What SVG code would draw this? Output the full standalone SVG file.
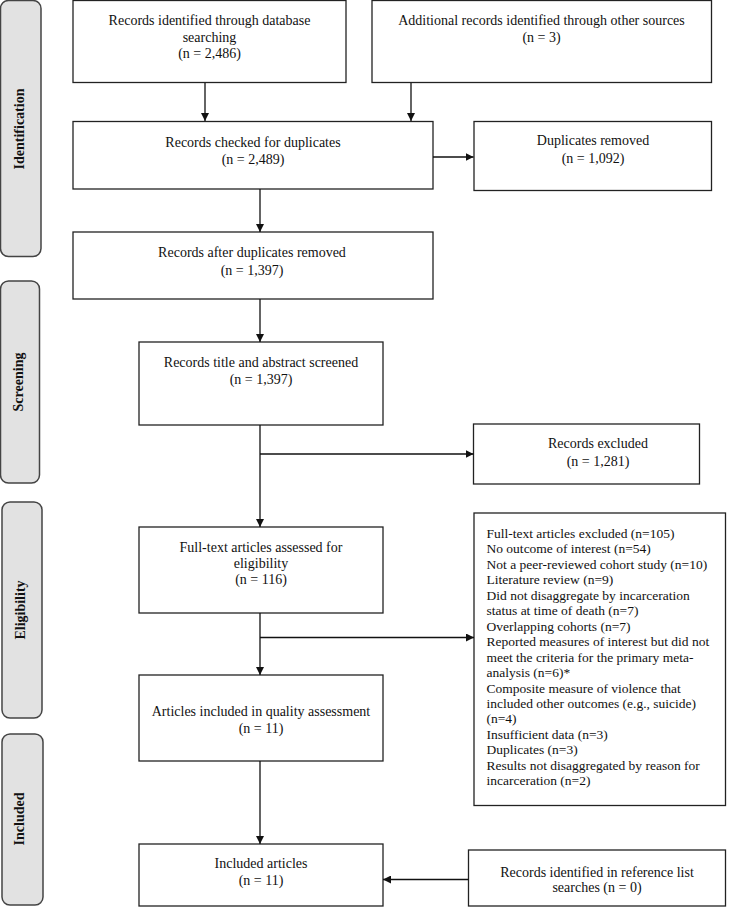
<svg xmlns="http://www.w3.org/2000/svg" width="729" height="907" viewBox="0 0 729 907">
<style>
.box{fill:#fff;stroke:#222;stroke-width:1.3}
.side{fill:#e2e2e2;stroke:#444;stroke-width:1.5}
.t{font-family:"Liberation Serif","Times New Roman",serif;font-size:14px;fill:#111;text-anchor:middle}
.ts{font-family:"Liberation Serif","Times New Roman",serif;font-size:13.5px;fill:#111}
.lab{font-family:"Liberation Serif","Times New Roman",serif;font-size:14px;font-weight:bold;fill:#111;text-anchor:middle}
.c{fill:none;stroke:#111;stroke-width:1.3}
</style>
<defs>
<marker id="ah" viewBox="0 0 10 10" refX="10" refY="5" markerWidth="8" markerHeight="8" markerUnits="userSpaceOnUse" orient="auto">
<path d="M0,0 L10,5 L0,10 z" fill="#111"/>
</marker>
</defs>
<rect width="729" height="907" fill="#fff"/>

<g id="phase-identification"><rect class="side" x="0.5" y="0.5" width="40.5" height="256" rx="8"/><text class="lab" transform="translate(24,129) rotate(-90)">Identification</text></g>
<g id="phase-screening"><rect class="side" x="0.5" y="281" width="39" height="202" rx="8"/><text class="lab" transform="translate(23,382) rotate(-90)">Screening</text></g>
<g id="phase-eligibility"><rect class="side" x="2" y="502" width="40" height="216" rx="8"/><text class="lab" transform="translate(25,610) rotate(-90)">Eligibility</text></g>
<g id="phase-included"><rect class="side" x="2" y="734" width="41" height="171" rx="8"/><text class="lab" transform="translate(24,819) rotate(-90)">Included</text></g>

<g id="n-db"><rect class="box" x="73" y="0.5" width="273" height="82"/>
<text class="t" x="209.5" y="25">Records identified through database</text>
<text class="t" x="209.5" y="41.5">searching</text>
<text class="t" x="209.5" y="58">(n = 2,486)</text></g>

<g id="n-other"><rect class="box" x="372" y="0.5" width="339.5" height="82"/>
<text class="t" x="541.5" y="25">Additional records identified through other sources</text>
<text class="t" x="541.5" y="41.5">(n = 3)</text></g>

<g id="n-checked"><rect class="box" x="73" y="121.5" width="360" height="67.5"/>
<text class="t" x="253" y="146.5">Records checked for duplicates</text>
<text class="t" x="253" y="164">(n = 2,489)</text></g>

<g id="n-dup"><rect class="box" x="474" y="121.5" width="237.5" height="69"/>
<text class="t" x="593" y="145">Duplicates removed</text>
<text class="t" x="593" y="163">(n = 1,092)</text></g>

<g id="n-after"><rect class="box" x="73" y="232" width="360" height="67"/>
<text class="t" x="252" y="256.5">Records after duplicates removed</text>
<text class="t" x="252" y="275">(n = 1,397)</text></g>

<g id="n-screened"><rect class="box" x="139" y="342" width="244" height="83"/>
<text class="t" x="261" y="366.5">Records title and abstract screened</text>
<text class="t" x="261" y="384">(n = 1,397)</text></g>

<g id="n-excl1"><rect class="box" x="473.5" y="424" width="226" height="60"/>
<text class="t" x="598" y="448">Records excluded</text>
<text class="t" x="598" y="465.5">(n = 1,281)</text></g>

<g id="n-fulltext"><rect class="box" x="139" y="527" width="244" height="86"/>
<text class="t" x="261" y="551.5">Full-text articles assessed for</text>
<text class="t" x="261" y="567.5">eligibility</text>
<text class="t" x="261" y="584">(n = 116)</text></g>

<g id="n-excl2"><rect class="box" x="474" y="513" width="251.5" height="292.5"/>
<text class="ts" x="486.5">
<tspan x="486.5" y="538">Full-text articles excluded (n=105)</tspan>
<tspan x="486.5" y="553.4">No outcome of interest (n=54)</tspan>
<tspan x="486.5" y="568.9">Not a peer-reviewed cohort study (n=10)</tspan>
<tspan x="486.5" y="584.3">Literature review (n=9)</tspan>
<tspan x="486.5" y="599.8">Did not disaggregate by incarceration</tspan>
<tspan x="486.5" y="615.2">status at time of death (n=7)</tspan>
<tspan x="486.5" y="630.7">Overlapping cohorts (n=7)</tspan>
<tspan x="486.5" y="646.1">Reported measures of interest but did not</tspan>
<tspan x="486.5" y="661.6">meet the criteria for the primary meta-</tspan>
<tspan x="486.5" y="677">analysis (n=6)*</tspan>
<tspan x="486.5" y="692.5">Composite measure of violence that</tspan>
<tspan x="486.5" y="707.9">included other outcomes (e.g., suicide)</tspan>
<tspan x="486.5" y="723.4">(n=4)</tspan>
<tspan x="486.5" y="738.8">Insufficient data (n=3)</tspan>
<tspan x="486.5" y="754.3">Duplicates (n=3)</tspan>
<tspan x="486.5" y="769.7">Results not disaggregated by reason for</tspan>
<tspan x="486.5" y="785.2">incarceration (n=2)</tspan>
</text></g>

<g id="n-quality"><rect class="box" x="139" y="675" width="244" height="86"/>
<text class="t" x="261" y="715.5">Articles included in quality assessment</text>
<text class="t" x="261" y="732.5">(n = 11)</text></g>

<g id="n-included"><rect class="box" x="139" y="844" width="244" height="62"/>
<text class="t" x="261" y="868">Included articles</text>
<text class="t" x="261" y="885">(n = 11)</text></g>

<g id="n-ref"><rect class="box" x="468.5" y="850" width="257" height="56"/>
<text class="t" x="597" y="876.5">Records identified in reference list</text>
<text class="t" x="597" y="891.5">searches (n = 0)</text></g>

<g id="connectors">
<path class="c" d="M205,83 V121" marker-end="url(#ah)"/>
<path class="c" d="M411,83 V121" marker-end="url(#ah)"/>
<path class="c" d="M433,157 H473.5" marker-end="url(#ah)"/>
<path class="c" d="M260,189 V232" marker-end="url(#ah)"/>
<path class="c" d="M260,299 V342" marker-end="url(#ah)"/>
<path class="c" d="M260,425 V527" marker-end="url(#ah)"/>
<path class="c" d="M260,454 H473.5" marker-end="url(#ah)"/>
<path class="c" d="M260,613 V675" marker-end="url(#ah)"/>
<path class="c" d="M260,637.5 H474" marker-end="url(#ah)"/>
<path class="c" d="M260,761 V844" marker-end="url(#ah)"/>
<path class="c" d="M468.5,879.5 H383" marker-end="url(#ah)"/>
</g>
</svg>
